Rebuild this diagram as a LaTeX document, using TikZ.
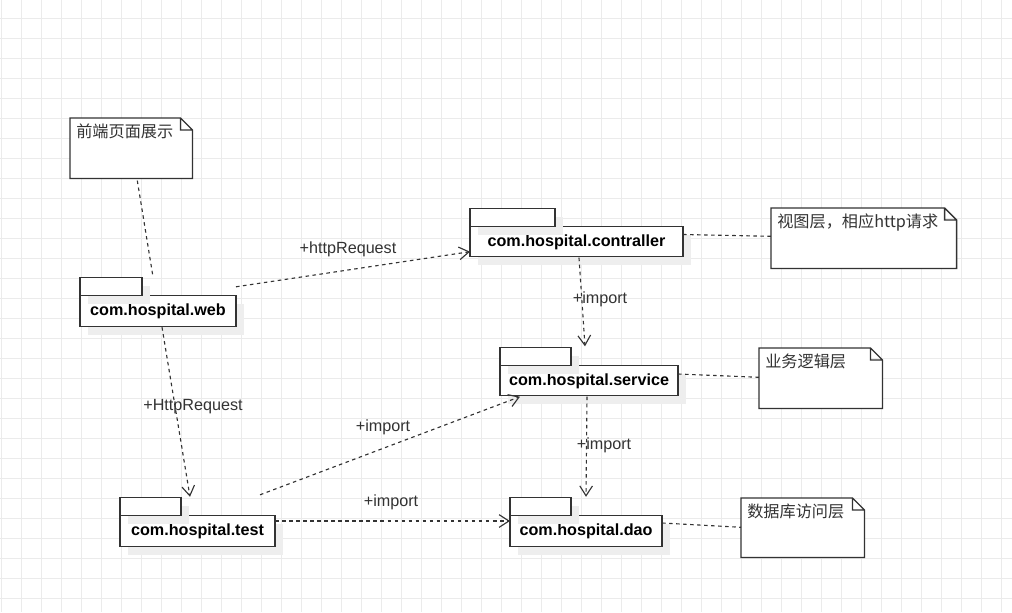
\documentclass[tikz,border=0pt]{standalone}
\usepackage{fontspec}
\setmainfont{Liberation Sans}
\newfontfamily\cjk{Noto Sans CJK SC}
\usetikzlibrary{arrows.meta}
\usetikzlibrary{shadows}
\definecolor{gridgray}{HTML}{EBEBEB}
\definecolor{linegray}{HTML}{333333}
\definecolor{shadowgray}{HTML}{EEEEEE}
\tikzstyle{gridline}=[gridgray,line width=0.7pt]
\tikzstyle{pkg}=[draw=linegray,line width=0.9pt,fill=white,inner sep=0pt,outer sep=0pt,
  font=\fontsize{11.5}{13}\selectfont\bfseries,minimum height=0.76cm,
  text height=1.45ex,text depth=0.15ex,
  drop shadow={shadow xshift=5.5pt,shadow yshift=-6pt,fill=shadowgray,opacity=1}]
\tikzstyle{pkgtab}=[pkg,anchor=south west,minimum height=0.45cm]
\tikzstyle{notebox}=[anchor=north west,minimum height=1.5cm,inner sep=0pt]
\tikzstyle{notetext}=[anchor=north west,inner sep=0pt,text=linegray,
  font=\cjk\fontsize{11.5}{13}\selectfont]
\tikzstyle{dep}=[linegray,line width=0.8pt,dash pattern=on 2.5pt off 2.5pt,
  -{Straight Barb[length=7pt,width=9pt]}]
\tikzstyle{link}=[linegray,line width=0.8pt,dash pattern=on 2.5pt off 2.5pt]
\tikzstyle{lbl}=[text=linegray,font=\fontsize{11.5}{13}\selectfont,inner sep=1pt]

\begin{document}
\begin{tikzpicture}[x=0.025cm,y=-0.025cm]
  \fill[white] (0,0) rectangle (1012,612);
  \useasboundingbox (0,0) rectangle (1012,612);
  % grid
  \foreach \gx in {1,21,...,1001}
    \draw[gridline] (\gx,0) -- (\gx,612);
  \foreach \gy in {18,38,...,598}
    \draw[gridline] (0,\gy) -- (1012,\gy);

  % packages
  \node[pkg,minimum width=3.9cm] (web) at (158,311) {com.hospital.web};
  \node[pkg,minimum width=5.325cm] (contraller) at (576.5,241.5) {com.hospital.contraller};
  \node[pkg,minimum width=4.45cm] (service) at (589,380.5) {com.hospital.service};
  \node[pkg,minimum width=3.875cm] (test) at (197.5,531) {com.hospital.test};
  \node[pkg,minimum width=3.8cm] (dao) at (586,531) {com.hospital.dao};
  \node[pkgtab,minimum width=1.55cm] (webtab) at (web.north west) {};
  \node[pkgtab,minimum width=2.125cm] (contrallertab) at (contraller.north west) {};
  \node[pkgtab,minimum width=1.775cm] (servicetab) at (service.north west) {};
  \node[pkgtab,minimum width=1.525cm] (testtab) at (test.north west) {};
  \node[pkgtab,minimum width=1.525cm] (daotab) at (dao.north west) {};

  % notes
  \node[notebox,minimum width=3.05cm] (n1) at (70,118) {};
  \node[notebox,minimum width=4.625cm] (n2) at (771,208) {};
  \node[notebox,minimum width=3.075cm] (n3) at (759,348) {};
  \node[notebox,minimum width=3.075cm,minimum height=1.475cm] (n4) at (741,498) {};
  \foreach \n in {n1,n2,n3,n4}
    \draw[linegray,line width=0.9pt,fill=white] (\n.north west)
      -- ([shift={(-12,0)}]\n.north east) -- ([shift={(0,12)}]\n.north east)
      -- (\n.south east) -- (\n.south west) -- cycle
      ([shift={(-12,0)}]\n.north east) |- ([shift={(0,12)}]\n.north east);
  \node[notetext] (n1t) at ([shift={(6,6)}]n1.north west) {前端页面展示};
  \node[notetext] (n2t) at ([shift={(6,6)}]n2.north west) {视图层，相应http请求};
  \node[notetext] (n3t) at ([shift={(6,6)}]n3.north west) {业务逻辑层};
  \node[notetext] (n4t) at ([shift={(6,6)}]n4.north west) {数据库访问层};

  % dependencies
  \draw[link] ([shift={(6,2)}]n1.south) -- ([shift={(-5,-19)}]web.north);
  \draw[dep] ([shift={(0,-9)}]web.north east) -- ([shift={(0,-5)}]contraller.south west);
  \draw[dep] ([shift={(4,1)}]web.south) -- ([shift={(-7.5,-19)}]test.north);
  \draw[dep] ([shift={(2.5,1)}]contraller.south) -- ([shift={(-4,-19)}]service.north);
  \draw[dep] ([shift={(-2,1)}]service.south) -- ([shift={(0,-19)}]dao.north);
  \draw[dep] ([shift={(-15,-21)}]test.north east) -- ([shift={(20,1)}]service.south west);
  \draw[dep] ([shift={(0,-10)}]test.east) -- ([shift={(0,-10)}]dao.west);
  \draw[link] ([shift={(0,-7)}]contraller.east) -- ([shift={(0,-2)}]n2.west);
  \draw[link] ([shift={(0,-6.5)}]service.east) -- ([shift={(0,-1)}]n3.west);
  \draw[link] ([shift={(0,-8)}]dao.east) -- ([shift={(0,-0.5)}]n4.west);

  % labels
  \node[lbl] (l1) at (348,249) {+httpRequest};
  \node[lbl] (l2) at (193,407) {+HttpRequest};
  \node[lbl] (l3) at (600,299) {+import};
  \node[lbl] (l4) at (604,445) {+import};
  \node[lbl] (l5) at (383,427) {+import};
  \node[lbl] (l6) at (391,502) {+import};
\end{tikzpicture}
\end{document}
